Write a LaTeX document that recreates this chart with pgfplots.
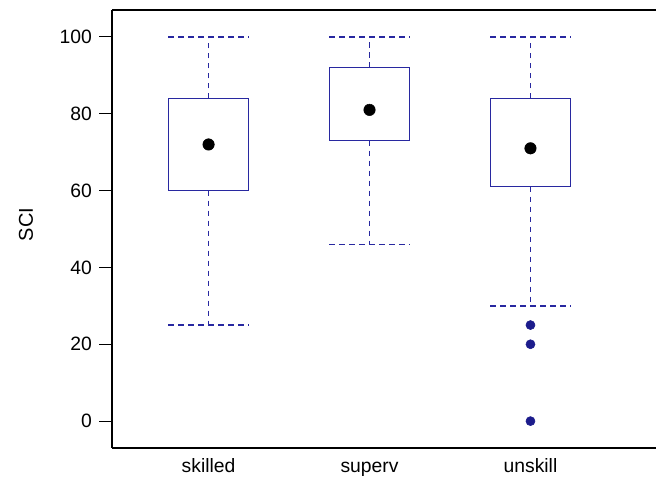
\documentclass[border=0pt]{standalone}
\usepackage{pgfplots}
\pgfplotsset{compat=1.18}
\usepackage{fontspec}
\setmainfont{Liberation Sans}
\definecolor{bw}{HTML}{2828A0}
\definecolor{od}{HTML}{1C1C8C}
\begin{document}
\begin{tikzpicture}
\path[use as bounding box] (0,0) rectangle (492pt,358.5pt);
\begin{axis}[at={(84pt,22.5pt)}, anchor=south west, scale only axis,
  width=408pt, height=328.5pt,
  xmin=0.4, xmax=3.78, ymin=-7, ymax=107,
  axis x line=box, axis y line=left,
  axis line style={-, line width=0.8pt, black},
  ytick={0,20,40,60,80,100}, xtick={1,2,3}, xticklabels={skilled,superv,unskill},
  ytick style={black, line width=0.8pt}, major tick length=9.5pt, tick align=outside,
  xtick style={draw=none},
  ytick pos=left,
  tick label style={font=\fontsize{14.5}{17}\selectfont},
  /pgf/number format/assume math mode=true,
  yticklabel style={xshift=-2pt},
  xticklabel style={yshift=3pt, text height=1.6ex, text depth=0.45ex},
  ylabel={SCI},
  ylabel style={font=\fontsize{15}{18}\selectfont, at={(axis description cs:-0.158,0.51)}, anchor=center},
  clip=false,
]
% boxes
\addplot[bw, line width=1pt] coordinates {(0.75,60)(1.25,60)(1.25,84)(0.75,84)(0.75,60)};
\addplot[bw, line width=1pt] coordinates {(1.75,73)(2.25,73)(2.25,92)(1.75,92)(1.75,73)};
\addplot[bw, line width=1pt] coordinates {(2.75,61)(3.25,61)(3.25,84)(2.75,84)(2.75,61)};
% whiskers
\addplot[bw, line width=1pt, dash pattern=on 4pt off 3.5pt] coordinates {(1,84)(1,100)};
\addplot[bw, line width=1pt, dash pattern=on 4pt off 3.5pt] coordinates {(0.75,100)(1.25,100)};
\addplot[bw, line width=1pt, dash pattern=on 4pt off 3.5pt] coordinates {(1,60)(1,25)};
\addplot[bw, line width=1pt, dash pattern=on 4pt off 3.5pt] coordinates {(0.75,25)(1.25,25)};
\addplot[bw, line width=1pt, dash pattern=on 4pt off 3.5pt] coordinates {(2,92)(2,100)};
\addplot[bw, line width=1pt, dash pattern=on 4pt off 3.5pt] coordinates {(1.75,100)(2.25,100)};
\addplot[bw, line width=1pt, dash pattern=on 4pt off 3.5pt] coordinates {(2,73)(2,46)};
\addplot[bw, line width=1pt, dash pattern=on 4pt off 3.5pt] coordinates {(1.75,46)(2.25,46)};
\addplot[bw, line width=1pt, dash pattern=on 4pt off 3.5pt] coordinates {(3,84)(3,100)};
\addplot[bw, line width=1pt, dash pattern=on 4pt off 3.5pt] coordinates {(2.75,100)(3.25,100)};
\addplot[bw, line width=1pt, dash pattern=on 4pt off 3.5pt] coordinates {(3,61)(3,30)};
\addplot[bw, line width=1pt, dash pattern=on 4pt off 3.5pt] coordinates {(2.75,30)(3.25,30)};
% medians
\addplot[only marks, mark=*, mark size=4.3pt, black] coordinates {(1,72)(2,81)(3,71)};
% outliers
\addplot[only marks, mark=*, mark size=3.4pt, od, mark options={draw=od, fill=od}] coordinates {(3,25)(3,20)(3,0)};
\end{axis}
\end{tikzpicture}
\end{document}
